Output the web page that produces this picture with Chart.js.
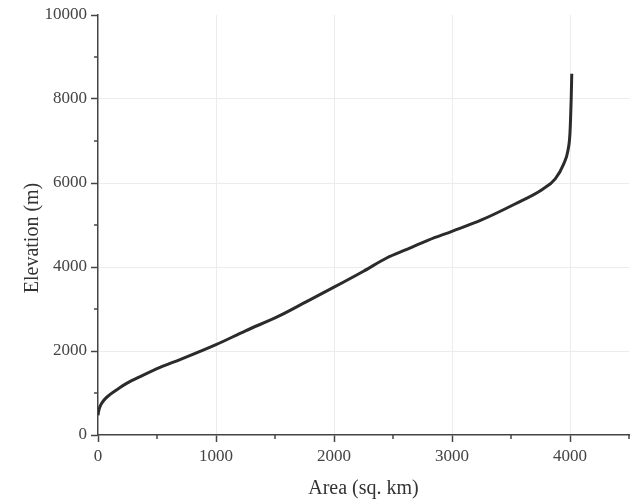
<!DOCTYPE html>
<html><head><meta charset="utf-8">
<script src="https://cdn.jsdelivr.net/npm/chart.js@4/dist/chart.umd.min.js"></script>
<style>html,body{margin:0;padding:0;background:#fff}#wrap{width:630px;height:501px}</style>
</head><body><div id="wrap"><canvas id="c" width="630" height="501"></canvas></div>
<script>
// Hypsometric curve values
const areaKm2 =    [0,   5,   15,  30,  60,  100, 160,  250,  357,  526,  700,  1000, 1250, 1531, 1750, 2000, 2250, 2450, 2600, 2800, 3000, 3250, 3534, 3762, 3875, 3946, 3983, 4000, 4010, 4015];
const elevationM = [470, 560, 660, 750, 860, 960, 1080, 1240, 1390, 1610, 1800, 2150, 2480, 2830, 3150, 3520, 3900, 4220, 4400, 4640, 4850, 5120, 5500, 5840, 6100, 6450, 6780, 7200, 8000, 8600];
const xMajorTicks = [0, 1000, 2000, 3000, 4000];
const xMinorTicks = [500, 1500, 2500, 3500, 4500];
const yMajorTicks = [0, 2000, 4000, 6000, 8000, 10000];
const yMinorTicks = [1000, 3000, 5000, 7000, 9000];
const xTitle = 'Area (sq. km)';
const yTitle = 'Elevation (m)';

const FONT = "'Liberation Serif', 'Times New Roman', serif";
const AXIS = '#444';

const minorTicks = {
  id: 'minorTicks',
  afterDraw(chart) {
    const ctx = chart.ctx, x = chart.scales.x, y = chart.scales.y;
    ctx.save();
    ctx.strokeStyle = AXIS; ctx.lineWidth = 1.5;
    xMinorTicks.forEach(v => {
      const p = x.getPixelForValue(v);
      ctx.beginPath(); ctx.moveTo(p, x.top); ctx.lineTo(p, x.top + 4); ctx.stroke();
    });
    yMinorTicks.forEach(v => {
      const p = y.getPixelForValue(v);
      ctx.beginPath(); ctx.moveTo(y.right - 4, p); ctx.lineTo(y.right, p); ctx.stroke();
    });
    ctx.restore();
  }
};

const shiftYTitle = {
  id: 'shiftYTitle',
  beforeDraw(chart) {
    const s = chart.scales.y;
    if (s && !s._patchedTitle) {
      const orig = s.drawTitle;
      s.drawTitle = function () {
        const ctx = this.ctx; ctx.save(); ctx.translate(0, 13); orig.call(this); ctx.restore();
      };
      s._patchedTitle = true;
    }
  }
};

const gridColor = (c) => (c.tick && (c.tick.value === 0 || c.tick.value === 10000)) ? 'rgba(0,0,0,0)' : '#ececec';

new Chart(document.getElementById('c'), {
  type: 'scatter',
  data: {
    datasets: [{
      data: areaKm2.map((a, i) => ({ x: a, y: elevationM[i] })),
      showLine: true,
      pointRadius: 0,
      borderColor: '#2b2b2b',
      borderWidth: 3,
      cubicInterpolationMode: 'monotone'
    }]
  },
  options: {
    responsive: false,
    animation: false,
    layout: { padding: { top: 15, right: 1, left: 0, bottom: 0 } },
    plugins: { legend: { display: false }, tooltip: { enabled: false } },
    scales: {
      x: {
        type: 'linear', position: 'bottom', min: 0, max: 4500,
        afterBuildTicks: s => { s.ticks = xMajorTicks.map(v => ({ value: v })); },
        afterFit: s => { s.height = 66; },
        ticks: { maxRotation: 0, padding: 4, color: AXIS, callback: v => String(v),
                 font: { family: FONT, size: 17 } },
        grid: { color: gridColor, lineWidth: 1, tickColor: AXIS, tickLength: 7, tickWidth: 1.5 },
        border: { color: AXIS, width: 1.5 },
        title: { display: true, text: xTitle, color: '#333', font: { family: FONT, size: 20 }, padding: { top: 0, bottom: 0 } }
      },
      y: {
        type: 'linear', min: 0, max: 10000,
        afterBuildTicks: s => { s.ticks = yMajorTicks.map(v => ({ value: v })); },
        afterFit: s => { s.width = 98; },
        ticks: { padding: 4, color: AXIS, callback: v => String(v), font: { family: FONT, size: 17 } },
        grid: { color: gridColor, lineWidth: 1, tickColor: AXIS, tickLength: 7, tickWidth: 1.5 },
        border: { color: AXIS, width: 1.5 },
        title: { display: true, text: yTitle, color: '#333', font: { family: FONT, size: 20 }, padding: { top: 21, bottom: 0 } }
      }
    }
  },
  plugins: [minorTicks, shiftYTitle]
});
</script>
</body></html>
